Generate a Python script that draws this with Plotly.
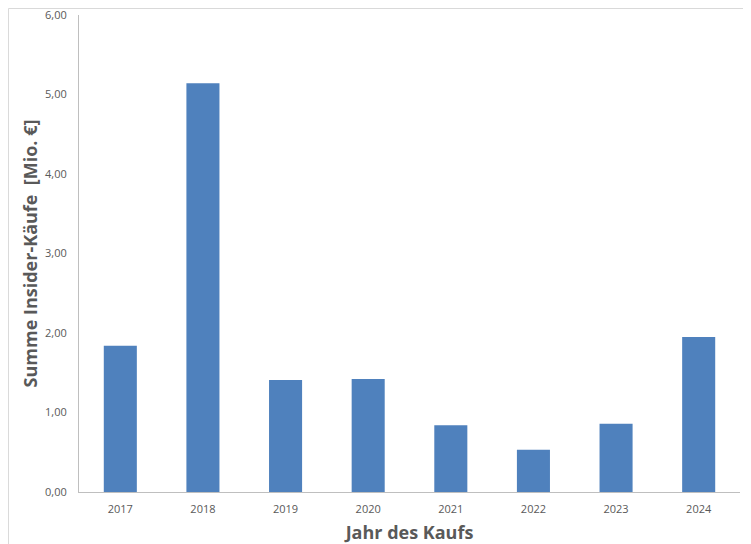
import plotly.graph_objects as go

years = ["2017", "2018", "2019", "2020", "2021", "2022", "2023", "2024"]
values = [1.84, 5.14, 1.41, 1.42, 0.84, 0.53, 0.86, 1.95]
y_ticks = [0, 1, 2, 3, 4, 5, 6]
y_tick_labels = ["0,00", "1,00", "2,00", "3,00", "4,00", "5,00", "6,00"]

fig = go.Figure(go.Bar(x=years, y=values, marker=dict(color="#4F81BD", line=dict(width=0))))

font_fam = "Open Sans, Liberation Sans, sans-serif"
fig.update_layout(
    width=743, height=536,
    margin=dict(l=71, r=11, t=7, b=52, autoexpand=False),
    paper_bgcolor="white", plot_bgcolor="white",
    bargap=0.6,
    showlegend=False,
    font=dict(family=font_fam, color="#595959"),
    xaxis=dict(
        type="category", automargin=False,
        showline=True, linecolor="#BFBFBF", linewidth=1,
        showgrid=False, ticks="",
        tickfont=dict(size=11, color="#595959"),
        ticklabelstandoff=7,
        title=dict(text="<b>Jahr des Kaufs</b>", font=dict(size=18, color="#595959"), standoff=11),
    ),
    yaxis=dict(
        range=[0, 6], automargin=False,
        tickvals=y_ticks, ticktext=y_tick_labels,
        showline=True, linecolor="#BFBFBF", linewidth=1,
        showgrid=False, ticks="", zeroline=False,
        tickfont=dict(size=11, color="#595959"),
        ticklabelstandoff=9, ticklabeloverflow="allow",
        title=dict(text="<b>Summe Insider-Käufe  [Mio. €]</b>", font=dict(size=18, color="#595959"), standoff=2),
    ),
    shapes=[
        dict(type="line", xref="paper", yref="paper", x0=-0.1067, x1=1.02, y0=1.0136, y1=1.0136,
             line=dict(color="#D9D9D9", width=1)),
        dict(type="line", xref="paper", yref="paper", x0=-0.1067, x1=-0.1067, y0=1.0136, y1=-0.11,
             line=dict(color="#D9D9D9", width=1)),
    ],
)

fig.write_html("out.html")
